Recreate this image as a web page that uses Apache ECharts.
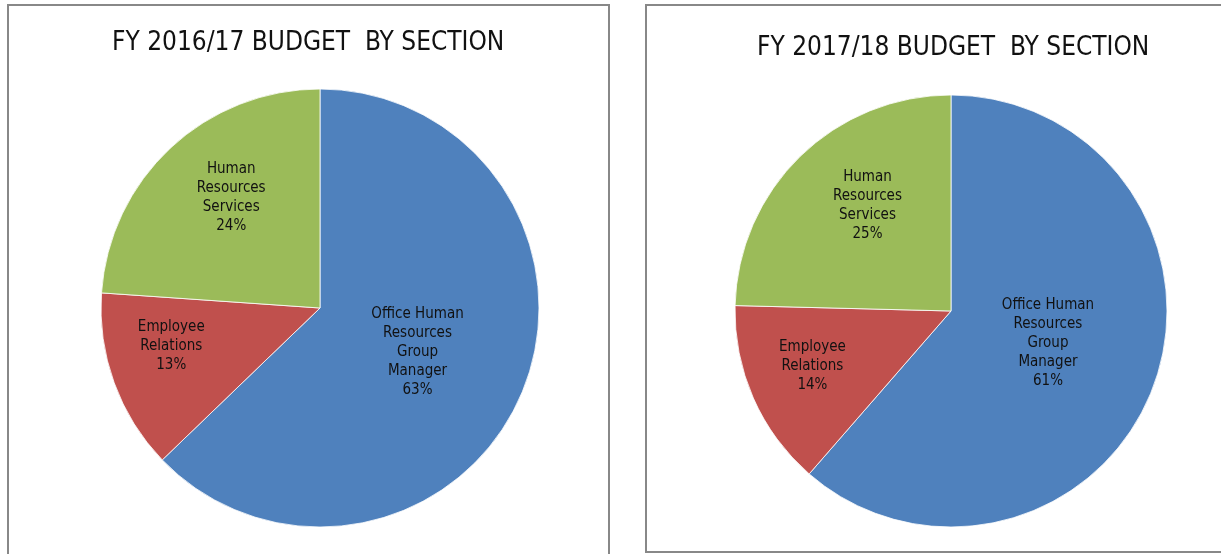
<!DOCTYPE html>
<html>
<head>
<meta charset="utf-8">
<title>Budget by section</title>
<script src="https://cdn.jsdelivr.net/npm/echarts@6/dist/echarts.min.js"></script>
<style>
  html, body { margin: 0; padding: 0; background: #fff; }
  #chart { width: 1221px; height: 554px; }
</style>
</head>
<body>
<div id="chart"></div>
<script>
// categories, wrapped the way the labels are shown
const sections = ['Office Human\nResources\nGroup\nManager', 'Employee\nRelations', 'Human\nResources\nServices']
const titles = ['FY 2016/17 BUDGET  BY SECTION', 'FY 2017/18 BUDGET  BY SECTION']
// share of budget, percent
const budget1617 = [62.8, 13.3, 23.9]
const budget1718 = [61.4, 14.0, 24.6]

const colors = ['#4f81bd', '#c0504d', '#9bbb59']
const labelOffsets1617 = [[-6, 0], [-43, 0], [-12, -28]]
const labelOffsets1718 = [[-7, -7], [-37, 10], [-6, -26]]
const font = 'DejaVu Sans Condensed'

function pieSeries(values, offsets, center, radius) {
  return {
    type: 'pie',
    center: center,
    radius: radius,
    startAngle: 90,
    clockwise: true,
    silent: true,
    avoidLabelOverlap: false,
    itemStyle: { borderColor: '#fff', borderWidth: 0.8 },
    label: {
      show: true,
      position: 'inside',
      color: '#111',
      fontFamily: font,
      fontSize: 15,
      lineHeight: 19,
      align: 'center',
      formatter: p => p.name + '\n' + Math.round(p.percent) + '%'
    },
    labelLine: { show: false },
    data: values.map((v, i) => ({
      name: sections[i],
      value: v,
      itemStyle: { color: colors[i] },
      label: { offset: offsets[i] }
    }))
  }
}

const chart = echarts.init(document.getElementById('chart'))
chart.setOption({
  animation: false,
  backgroundColor: '#fff',
  graphic: [
    { type: 'rect', shape: { x: 8, y: 5, width: 601, height: 620 }, style: { fill: 'none', stroke: '#888', lineWidth: 2 } },
    { type: 'rect', shape: { x: 646, y: 5, width: 620, height: 547 }, style: { fill: 'none', stroke: '#888', lineWidth: 2 } }
  ],
  title: [
    {
      text: titles[0],
      left: 112,
      top: 30,
      padding: 0,
      textStyle: { fontFamily: font, fontSize: 26, fontWeight: 'normal', color: '#111' }
    },
    {
      text: titles[1],
      left: 757,
      top: 35,
      padding: 0,
      textStyle: { fontFamily: font, fontSize: 26, fontWeight: 'normal', color: '#111' }
    }
  ],
  series: [
    pieSeries(budget1617, labelOffsets1617, [320, 308], 219),
    pieSeries(budget1718, labelOffsets1718, [951, 311], 216)
  ]
})
</script>
</body>
</html>
